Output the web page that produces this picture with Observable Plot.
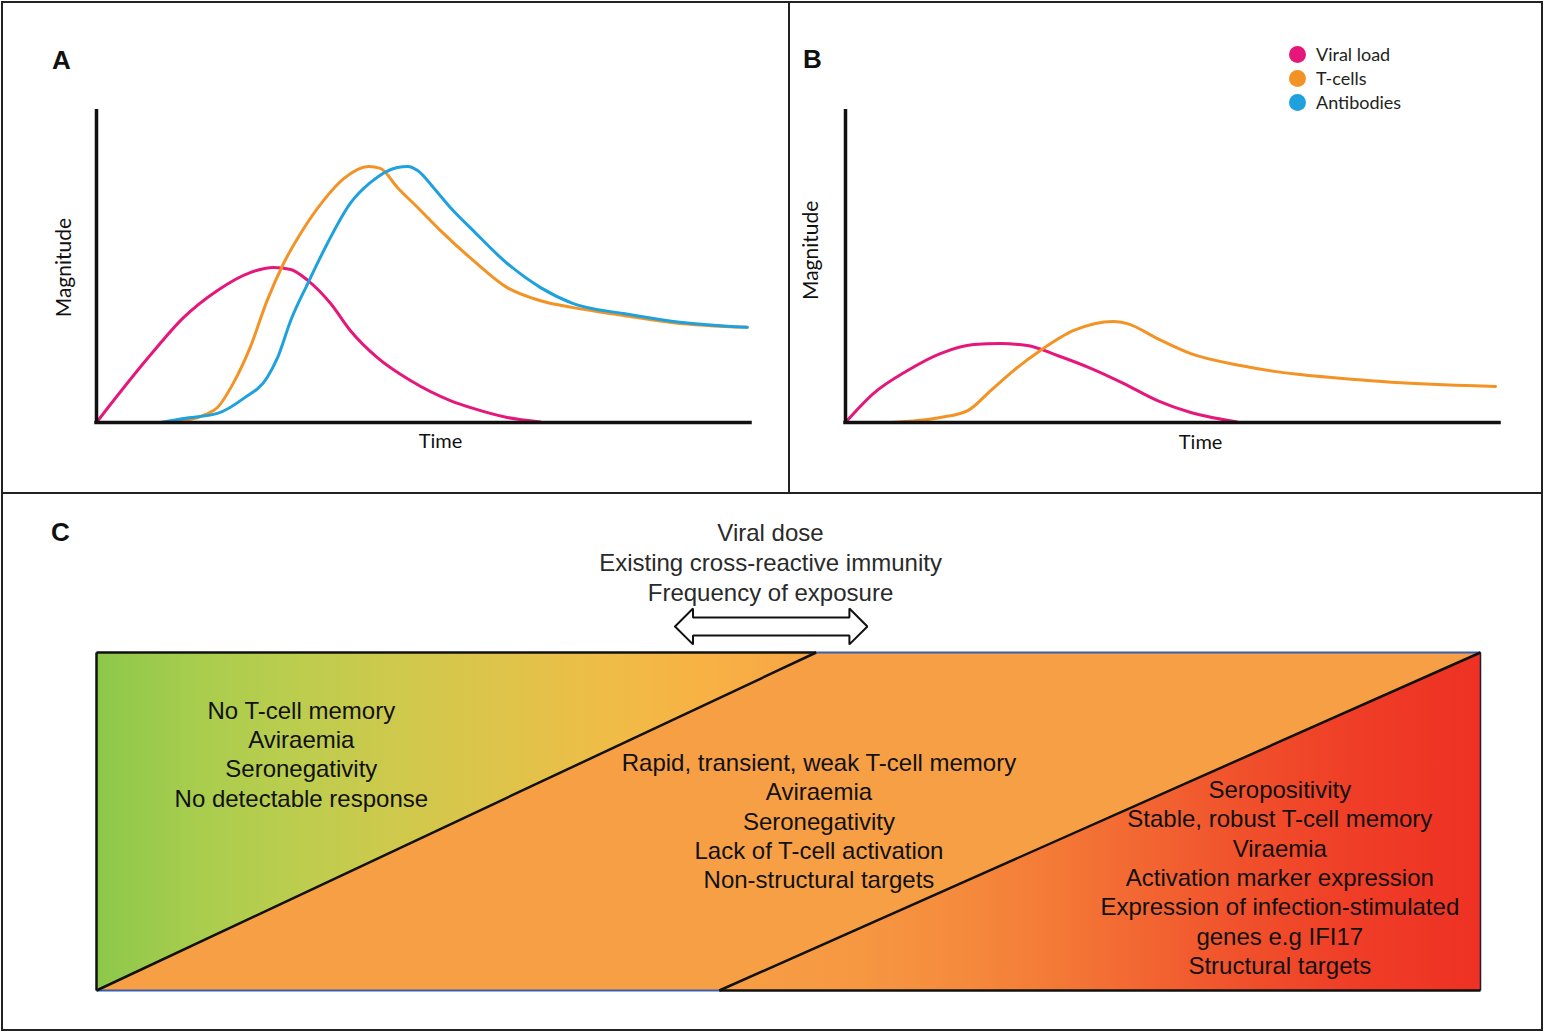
<!DOCTYPE html>
<html>
<head>
<meta charset="utf-8">
<script src="https://cdn.jsdelivr.net/npm/d3@7"></script>
<script src="https://cdn.jsdelivr.net/npm/@observablehq/plot@0.6"></script>
<style>
  html, body { margin: 0; padding: 0; background: #fff; }
  #fig { position: relative; width: 1545px; height: 1033px; overflow: hidden; background: #fff; }
  .frame { position: absolute; left: 1px; top: 1px; width: 1542px; height: 1030px; border: 2px solid #222; box-sizing: border-box; }
  .hline { position: absolute; left: 1px; top: 492px; width: 1542px; height: 2px; background: #222; }
  .vline { position: absolute; left: 788px; top: 1px; width: 2px; height: 492px; background: #222; }
  .panel { position: absolute; }
  .letter { position: absolute; font: bold 26px "Liberation Sans", Arial, sans-serif; line-height: 26px; color: #111; }
  .lg { position: absolute; left: 1289px; height: 24px; display: flex; align-items: center; font: 18px Lato, "Open Sans", sans-serif; color: #231f20; }
  .lg .dot { width: 17px; height: 17px; border-radius: 50%; margin-right: 10px; }
</style>
</head>
<body>
<svg width="0" height="0" style="position:absolute">
  <defs>
    <linearGradient id="gradLeft" x1="0" y1="0" x2="1" y2="0"></linearGradient>
    <linearGradient id="gradRight" x1="0" y1="0" x2="1" y2="0"></linearGradient>
  </defs>
</svg>
<div id="fig">
  <div class="panel" id="pA" style="left:0px;top:0px"></div>
  <div class="panel" id="pB" style="left:790px;top:0px"></div>
  <div class="panel" id="pC" style="left:0px;top:494px"></div>
  <div class="frame"></div>
  <div class="hline"></div>
  <div class="vline"></div>
  <div class="letter" style="left:52px;top:47px">A</div>
  <div class="letter" style="left:803px;top:46px">B</div>
  <div class="letter" style="left:51px;top:519px">C</div>
  <div id="legend"></div>
</div>
<script>
// ---------- data ----------
const seriesNames = ["Viral load", "T-cells", "Antibodies"];
const seriesColors = ["#e6177b", "#f39325", "#1ea1dc"];

// Panel A: [time, magnitude] (arbitrary units 0-100)
const panelA_viralLoad = [[0,0],[8.3,21.7],[13.3,33.5],[18.5,42.2],[23.5,47.9],[27.1,49.5],[29.7,48.9],[32.3,45.4],[35.8,38.0],[38.8,29.4],[42.9,20.8],[48.0,13.4],[54.1,7.0],[57.6,4.5],[62.8,1.6],[67.9,0.2]];
const panelA_tCells = [[9.8,0],[14.4,1.0],[16.7,2.6],[18.5,4.8],[20.9,12.5],[23.5,24.0],[26.1,39.0],[28.6,50.8],[31.2,60.4],[34.7,70.9],[37.8,77.9],[41.6,81.8],[43.4,81.2],[46.0,75.1],[49.1,68.7],[52.6,61.3],[57.6,51.8],[62.8,43.1],[67.9,38.9],[72.9,36.7],[80.6,34.2],[88.2,31.9],[99.5,30.4]];
const panelA_antibodies = [[9.8,0],[13.3,1.3],[18.5,2.9],[22.5,7.7],[26.1,14.4],[27.7,20.8],[29.7,32.6],[32.3,44.4],[35.3,57.2],[38.8,70.0],[41.9,76.7],[46.0,81.5],[47.6,81.8],[49.1,80.5],[51.5,75.1],[54.1,68.7],[57.6,61.3],[62.8,50.8],[67.9,43.1],[72.9,38.0],[80.6,34.8],[88.2,32.3],[99.5,30.4]];

// Panel B
const panelB_viralLoad = [[0,0],[4.3,9.3],[9.5,16.6],[14.5,22.0],[19.6,24.9],[23.7,25.2],[27.8,24.6],[32.4,21.4],[37.5,17.3],[42.5,12.5],[47.7,7.0],[52.8,3.2],[59.9,0.2]];
const panelB_tCells = [[6.9,0],[14.5,1.6],[18.7,3.8],[22.2,10.2],[25.7,16.6],[29.8,23.0],[34.9,29.4],[41.0,32.3],[43.1,31.6],[47.7,26.8],[52.8,22.0],[60.4,18.2],[79.8,13.4],[99.4,11.5]];

// Panel C: spectrum (x 0-100 across the band, y 0-1 bottom to top)
const upperCut = 52;   // where the first diagonal meets the top edge
const lowerCut = 45;   // where the second diagonal meets the bottom edge
const topFactors = ["Viral dose", "Existing cross-reactive immunity", "Frequency of exposure"];
const zoneLeftText = ["No T-cell memory", "Aviraemia", "Seronegativity", "No detectable response"];
const zoneMidText = ["Rapid, transient, weak T-cell memory", "Aviraemia", "Seronegativity", "Lack of T-cell activation", "Non-structural targets"];
const zoneRightText = ["Seropositivity", "Stable, robust T-cell memory", "Viraemia", "Activation marker expression", "Expression of infection-stimulated", "genes e.g IFI17", "Structural targets"];
const arrowOutline = [[41.8,1.077],[43.1,1.130],[43.1,1.1036],[54.4,1.1036],[54.4,1.130],[55.7,1.077],[54.4,1.024],[54.4,1.050],[43.1,1.050],[43.1,1.024],[41.8,1.077]];

// gradient colour stops (styles)
const leftStops = [[0,"#8cc84b"],[0.145,"#a9cd4e"],[0.284,"#bdcd4e"],[0.423,"#cfc94c"],[0.562,"#dec44a"],[0.701,"#eebd47"],[0.84,"#f8b244"],[1,"#f7a545"]];
const rightStops = [[0,"#f79f45"],[0.175,"#f69842"],[0.306,"#f58c3d"],[0.437,"#f47a37"],[0.568,"#f26431"],[0.699,"#f04f2b"],[0.829,"#ef3e27"],[1,"#ee3124"]];
const midOrange = "#f79f45";

// ---------- helpers ----------
function rows(pairs, series) { return pairs.map(([t, m]) => ({t, m, series})); }
function fillStops(id, stops) {
  const g = document.getElementById(id);
  for (const [o, c] of stops) {
    const s = document.createElementNS("http://www.w3.org/2000/svg", "stop");
    s.setAttribute("offset", o); s.setAttribute("stop-color", c);
    g.appendChild(s);
  }
}
fillStops("gradLeft", leftStops);
fillStops("gradRight", rightStops);

const labelFont = "Lato, 'Open Sans', sans-serif";
const bodyFont = "'Liberation Sans', Arial, Helvetica, sans-serif";

function curvePanel(data, opts) {
  return Plot.plot({
    width: opts.width, height: 493,
    marginLeft: opts.marginLeft, marginRight: opts.marginRight, marginTop: 109, marginBottom: 71,
    x: {domain: [0, 100], axis: null},
    y: {domain: [0, 100], axis: null},
    color: {domain: seriesNames, range: seriesColors},
    style: {background: "transparent", overflow: "visible"},
    marks: [
      Plot.line(data, {x: "t", y: "m", z: "series", stroke: "series", strokeWidth: 3, curve: "monotone-x"}),
      Plot.ruleX([0], {y1: 0, y2: 100, stroke: "#111", strokeWidth: 3.5}),
      Plot.ruleY([0], {x1: 0, x2: 100, stroke: "#111", strokeWidth: 3.5, strokeLinecap: "square"}),
      Plot.text([{t: opts.timeX, label: "Time"}], {x: "t", text: "label", frameAnchor: "bottom", lineAnchor: "middle", textAnchor: "middle", dy: opts.timeDy, fontSize: 20, fontFamily: labelFont, fill: "#111"}),
      Plot.text([{m: opts.magY, label: "Magnitude"}], {y: "m", text: "label", frameAnchor: "left", textAnchor: "middle", lineAnchor: "middle", dx: opts.magDx, rotate: -90, fontSize: 21, fontFamily: labelFont, fill: "#111"})
    ]
  });
}

const dataA = [...rows(panelA_viralLoad, "Viral load"), ...rows(panelA_tCells, "T-cells"), ...rows(panelA_antibodies, "Antibodies")];
const dataB = [...rows(panelB_viralLoad, "Viral load"), ...rows(panelB_tCells, "T-cells")];

document.getElementById("pA").appendChild(curvePanel(dataA, {width: 789, marginLeft: 96, marginRight: 39, timeX: 52.6, timeDy: 19, magY: 49.5, magDx: -32}));
document.getElementById("pB").appendChild(curvePanel(dataB, {width: 755, marginLeft: 55, marginRight: 46, timeX: 54.3, timeDy: 20.5, magY: 55, magDx: -34}));

// legend
const legend = document.getElementById("legend");
const legendCenters = [54, 78, 102];
seriesNames.forEach((name, i) => {
  const row = document.createElement("div");
  row.className = "lg";
  row.style.top = (legendCenters[i] - 12) + "px";
  row.innerHTML = `<span class="dot" style="background:${seriesColors[i]}"></span><span>${name}</span>`;
  legend.appendChild(row);
});

// Panel C
const leftZone = [{x: 0, y1: 0, y2: 1}, {x: upperCut, y1: 1, y2: 1}];
const rightZone = [{x: lowerCut, y1: 0, y2: 0}, {x: 100, y1: 0, y2: 1}];
const blackEdges = [
  {x1: 0, y1: 1, x2: upperCut, y2: 1},
  {x1: lowerCut, y1: 0, x2: 100, y2: 0},
  {x1: 0, y1: 0, x2: 0, y2: 1},
  {x1: 0, y1: 0, x2: upperCut, y2: 1},
  {x1: lowerCut, y1: 0, x2: 100, y2: 1}
];
const blueEdges = [
  {x1: upperCut, y1: 1, x2: 100, y2: 1},
  {x1: 0, y1: 0, x2: lowerCut, y2: 0}
];
const rightEdge = [{x1: 100, y1: 0, x2: 100, y2: 1}];
const textBlocks = [
  {x: 14.8, y: 0.702, text: zoneLeftText.join("\n")},
  {x: 52.2, y: 0.504, text: zoneMidText.join("\n")},
  {x: 85.5, y: 0.337, text: zoneRightText.join("\n")}
];

const plotC = Plot.plot({
  width: 1545, height: 539,
  marginLeft: 96, marginRight: 65, marginTop: 158, marginBottom: 43,
  x: {domain: [0, 100], axis: null},
  y: {domain: [0, 1], axis: null},
  style: {background: "transparent", overflow: "visible"},
  marks: [
    Plot.rect([{x1: 0, x2: 100, y1: 0, y2: 1}], {x1: "x1", x2: "x2", y1: "y1", y2: "y2", fill: midOrange}),
    Plot.areaY(leftZone, {x: "x", y1: "y1", y2: "y2", fill: "url(#gradLeft)"}),
    Plot.areaY(rightZone, {x: "x", y1: "y1", y2: "y2", fill: "url(#gradRight)"}),
    Plot.link(blueEdges, {x1: "x1", y1: "y1", x2: "x2", y2: "y2", stroke: "#3b5db0", strokeWidth: 2}),
    Plot.link(rightEdge, {x1: "x1", y1: "y1", x2: "x2", y2: "y2", stroke: "#1d1d3a", strokeWidth: 1.5}),
    Plot.link(blackEdges, {x1: "x1", y1: "y1", x2: "x2", y2: "y2", stroke: "#111", strokeWidth: 2.5}),
    Plot.text(textBlocks, {x: "x", y: "y", text: "text", fontSize: 24, lineHeight: 1.22, fontFamily: bodyFont, fill: "#111"}),
    Plot.text([{x: 48.7, y: 1.269, text: topFactors.join("\n")}], {x: "x", y: "y", text: "text", fontSize: 24, lineHeight: 1.25, fontFamily: bodyFont, fill: "#2a2a2a"}),
    Plot.line(arrowOutline, {x: d => d[0], y: d => d[1], stroke: "#111", strokeWidth: 2, fill: "white", strokeLinejoin: "miter"})
  ]
});
document.getElementById("pC").appendChild(plotC);
</script>
</body>
</html>
